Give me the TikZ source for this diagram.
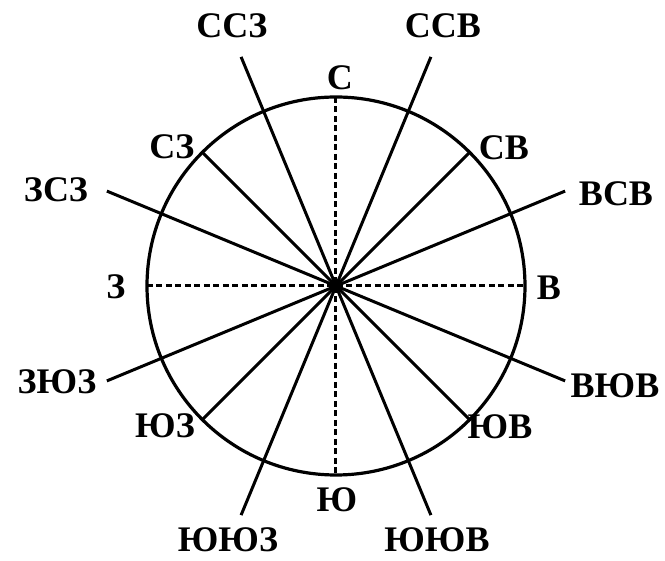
\documentclass[tikz,border=0pt]{standalone}
\usepackage{fontspec}
\setmainfont{Liberation Serif}
\begin{document}
\begin{tikzpicture}[x=1pt,y=1pt,
  lbl/.style={inner sep=0pt,font=\fontsize{36}{36}\selectfont\bfseries},
  ray/.style={line width=3pt},
  dray/.style={line width=3pt,dash pattern=on 6pt off 3.5pt},
  rim/.style={line width=3.2pt}]
\useasboundingbox (-336,-275) rectangle (329,286);
\coordinate (c) at (0,0);
% circle
\draw[rim] (c) circle (189);
% cardinal dashed
\coordinate (n) at (0,189);
\coordinate (s) at (0,-189);
\coordinate (e) at (189,0);
\coordinate (w) at (-189,0);
\draw[dray] (n) -- (s);
\draw[dray] (w) -- (e);
% intercardinal solid to rim
\foreach \a/\nm in {45/ne,135/nw,225/sw,315/se}{
  \coordinate (\nm) at (\a:189);
  \draw[ray] (c) -- (\nm);
}
% secondary intercardinal, beyond rim
\foreach \a/\nm in {67.5/nne,112.5/nnw,22.5/ene,157.5/wnw,202.5/wsw,247.5/ssw,292.5/sse,337.5/ese}{
  \coordinate (\nm) at (\a:248);
  \draw[ray] (c) -- (\nm);
}
% labels
\node[lbl] (lN) at (4,208) {С};
\node[lbl] (lNNW) at (-104,260) {ССЗ};
\node[lbl] (lNNE) at (107,260) {ССВ};
\node[lbl] (lNW) at (-164,139) {СЗ};
\node[lbl] (lWNW) at (-280,96) {ЗСЗ};
\node[lbl] (lW) at (-220,-1) {З};
\node[lbl] (lWSW) at (-279,-96) {ЗЮЗ};
\node[lbl] (lSW) at (-171,-140) {ЮЗ};
\node[lbl] (lSSW) at (-108,-254) {ЮЮЗ};
\node[lbl] (lS) at (1,-214) {Ю};
\node[lbl] (lSSE) at (101,-254) {ЮЮВ};
\node[lbl] (lSE) at (164,-141) {ЮВ};
\node[lbl] (lESE) at (279,-100) {ВЮВ};
\node[lbl] (lE) at (213,-2) {В};
\node[lbl] (lENE) at (280,92) {ВСВ};
\node[lbl] (lNE) at (168,138) {СВ};
\end{tikzpicture}
\end{document}
